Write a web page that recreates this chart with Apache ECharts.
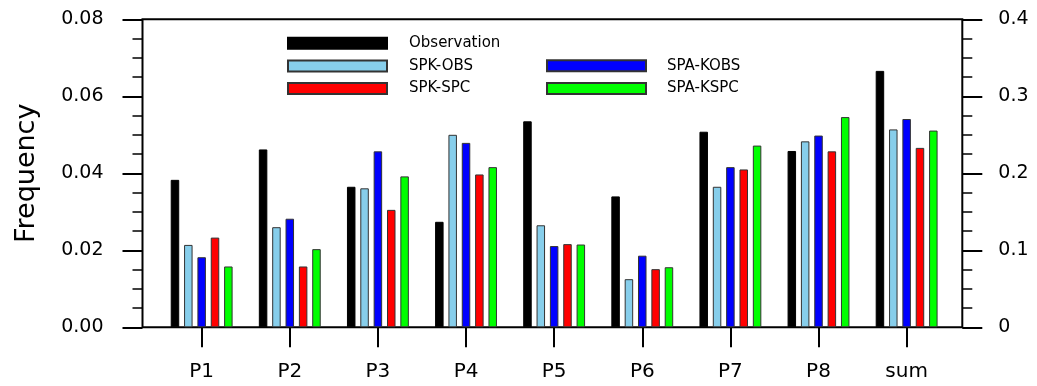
<!DOCTYPE html>
<html>
<head>
<meta charset="utf-8">
<script src="https://cdn.jsdelivr.net/npm/echarts@6/dist/echarts.min.js"></script>
<style>
  html, body { margin: 0; padding: 0; background: #fff; }
  #chart { width: 1037px; height: 386px; }
</style>
</head>
<body>
<div id="chart"></div>
<script>
// Categories: eight patterns plus their total ("sum" is read on the right axis)
const categories = ['P1', 'P2', 'P3', 'P4', 'P5', 'P6', 'P7', 'P8', 'sum'];

// Frequencies per pattern; the last entry of each list is the total
const observation = [0.0383, 0.0462, 0.0365, 0.0274, 0.0535, 0.0340, 0.0508, 0.0458, 0.333];
const spkObs      = [0.0214, 0.0260, 0.0361, 0.0500, 0.0265, 0.0125, 0.0365, 0.0483, 0.257];
const spaKobs     = [0.0182, 0.0282, 0.0457, 0.0479, 0.0211, 0.0186, 0.0416, 0.0498, 0.2705];
const spkSpc      = [0.0233, 0.0158, 0.0305, 0.0397, 0.0216, 0.0151, 0.0410, 0.0457, 0.233];
const spaKspc     = [0.0158, 0.0203, 0.0392, 0.0416, 0.0215, 0.0156, 0.0472, 0.0546, 0.2555];

// Axis tick values
const leftTicks = [0, 0.02, 0.04, 0.06, 0.08];
const rightTicks = [0, 0.1, 0.2, 0.3, 0.4];

const seriesDefs = [
  { name: 'Observation', values: observation, color: '#000000', border: '#000000' },
  { name: 'SPK-OBS',     values: spkObs,      color: '#87CEEB', border: '#333333' },
  { name: 'SPA-KOBS',    values: spaKobs,     color: '#0000FF', border: '#333333' },
  { name: 'SPK-SPC',     values: spkSpc,      color: '#FF0000', border: '#333333' },
  { name: 'SPA-KSPC',    values: spaKspc,     color: '#00FF00', border: '#333333' }
];

const FONT = 'DejaVu Sans';
const nPat = categories.length - 1;

function barSeries(def, isSum) {
  const data = def.values.map((v, i) => (isSum ? (i === nPat ? v : '-') : (i < nPat ? v : '-')));
  return {
    type: 'bar',
    name: def.name,
    xAxisIndex: isSum ? 2 : 1,
    yAxisIndex: isSum ? 3 : 2,
    data: data,
    barWidth: 8.5,
    barGap: '57%',
    itemStyle: { color: def.color, borderColor: def.border, borderWidth: 1 },
    emphasis: { disabled: true }
  };
}

const series = [];
seriesDefs.forEach(d => series.push(barSeries(d, false)));
seriesDefs.forEach(d => series.push(barSeries(d, true)));

const tickStyle = { color: '#000', width: 2 };
const minorStyle = { color: '#000', width: 1.5 };

const legendCommon = {
  orient: 'vertical',
  padding: 0,
  itemWidth: 99, itemHeight: 11, itemGap: 7.6,
  icon: 'rect',
  selectedMode: false
};

const option = {
  backgroundColor: '#fff',
  animation: false,
  legend: [
    Object.assign({}, legendCommon, {
      data: ['Observation', 'SPK-OBS', 'SPK-SPC'],
      left: 287, top: 35.8,
      textStyle: { fontFamily: FONT, fontSize: 15, color: '#000', lineHeight: 12, padding: [0, 0, 0, 17] }
    }),
    Object.assign({}, legendCommon, {
      data: ['SPA-KOBS', 'SPA-KSPC'],
      left: 546, top: 58.3,
      textStyle: { fontFamily: FONT, fontSize: 15, color: '#000', lineHeight: 12, padding: [0, 0, 0, 16] }
    })
  ],
  grid: [
    // frame with value axes
    { left: 142.5, right: 74.7, top: 19.3, bottom: 58.7, show: true, borderColor: '#000', borderWidth: 2, backgroundColor: 'transparent' },
    // bar area, one band per category
    { left: 157.6, right: 86.3, top: 19.3, bottom: 58.7 }
  ],
  xAxis: [
    { gridIndex: 0, type: 'value', min: 0, max: 1, show: false },
    {
      gridIndex: 1, type: 'category', data: categories, boundaryGap: true,
      axisLine: { show: false },
      axisTick: { show: true, alignWithLabel: true, length: 20, lineStyle: tickStyle },
      axisLabel: { fontFamily: FONT, fontSize: 20, color: '#000', margin: 34 },
      splitLine: { show: false }
    },
    { gridIndex: 1, type: 'category', data: categories, show: false }
  ],
  yAxis: [
    {
      gridIndex: 0, type: 'value', position: 'left',
      min: leftTicks[0], max: leftTicks[leftTicks.length - 1], interval: leftTicks[1] - leftTicks[0],
      name: 'Frequency', nameLocation: 'middle', nameRotate: 90, nameGap: 102,
      nameTextStyle: { fontFamily: FONT, fontSize: 27, color: '#000' },
      axisLine: { show: false },
      axisTick: { show: true, length: 20, lineStyle: tickStyle },
      minorTick: { show: true, splitNumber: 4, length: 10, lineStyle: minorStyle },
      axisLabel: { fontFamily: FONT, fontSize: 19, color: '#000', margin: 39, formatter: v => v.toFixed(2) },
      splitLine: { show: false }, minorSplitLine: { show: false }
    },
    {
      gridIndex: 0, type: 'value', position: 'right',
      min: rightTicks[0], max: rightTicks[rightTicks.length - 1], interval: rightTicks[1] - rightTicks[0],
      axisLine: { show: false },
      axisTick: { show: true, length: 20, lineStyle: tickStyle },
      minorTick: { show: true, splitNumber: 4, length: 10, lineStyle: minorStyle },
      axisLabel: { fontFamily: FONT, fontSize: 19, color: '#000', margin: 36 },
      splitLine: { show: false }, minorSplitLine: { show: false }
    },
    { gridIndex: 1, type: 'value', min: leftTicks[0], max: leftTicks[leftTicks.length - 1], show: false, splitLine: { show: false } },
    { gridIndex: 1, type: 'value', min: rightTicks[0], max: rightTicks[rightTicks.length - 1], show: false, splitLine: { show: false } }
  ],
  series: series
};

const chart = echarts.init(document.getElementById('chart'), null, { renderer: 'canvas' });
chart.setOption(option);
</script>
</body>
</html>
